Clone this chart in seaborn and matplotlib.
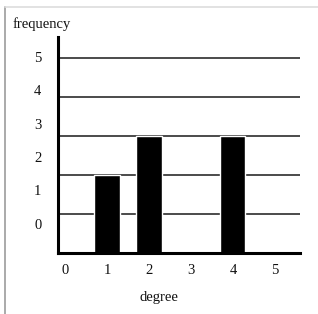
import numpy as np
import pandas as pd
import matplotlib
matplotlib.use("Agg")
import matplotlib.pyplot as plt
import seaborn as sns
from matplotlib.lines import Line2D

sns.set_theme(style="white")
plt.rcParams['font.family'] = ['Liberation Serif', 'DejaVu Serif']

# data
degrees = [1, 2, 4]
frequencies = [2, 3, 3]
x_tick_labels = ["0", "1", "2", "3", "4", "5"]
y_tick_labels = ["0", "1", "2", "3", "4", "5"]
grid_levels = [1, 2, 3, 4, 5]

df = pd.DataFrame({"degree": degrees, "frequency": frequencies})

fig = plt.figure(figsize=(3.18, 3.14), dpi=100)
ax = fig.add_axes([0.1824, 0.1943, 0.761, 0.688])

# horizontal lines behind the bars
for lvl in grid_levels:
    ax.axhline(lvl, color="#1a1a1a", lw=1.1, zorder=0)

sns.barplot(data=df, x="degree", y="frequency", native_scale=True,
            width=0.6, color="black", saturation=1, ax=ax, zorder=2)

ax.set_xlim(-0.17, 5.6)
ax.set_ylim(0, 5.54)

ax.set_xticks(np.arange(len(x_tick_labels)))
ax.set_xticklabels(x_tick_labels, fontsize=10.5, color="#111111")
# the labels on the y axis sit a bit off the lines in the original
ax.set_yticks(0.75 + 0.855 * np.arange(len(y_tick_labels)))
ax.set_yticklabels(y_tick_labels, fontsize=10.5, color="#111111")
ax.tick_params(axis="x", length=0, pad=8)
ax.tick_params(axis="y", length=0, pad=12)

ax.set_xlabel("")
ax.set_ylabel("")

for side in ["top", "right"]:
    ax.spines[side].set_visible(False)
for side in ["left", "bottom"]:
    ax.spines[side].set_color("black")
    ax.spines[side].set_linewidth(2.2)

fig.text(13 / 318, 1 - 24 / 314, "frequency", fontsize=10.5, va="center", ha="left",
         color="#111111")
fig.text(159 / 318, 1 - 297 / 314, "degree", fontsize=10.5, va="center", ha="center",
         color="#111111")

# thin frame on the left and top of the image
fig.add_artist(Line2D([5 / 318, 5 / 318], [0, 1 - 7 / 314], transform=fig.transFigure,
                      color="#aaaaaa", lw=1.4))
fig.add_artist(Line2D([5 / 318, 1], [1 - 7 / 314, 1 - 7 / 314], transform=fig.transFigure,
                      color="#dddddd", lw=1.2))

fig.savefig("out.png", dpi=100)
